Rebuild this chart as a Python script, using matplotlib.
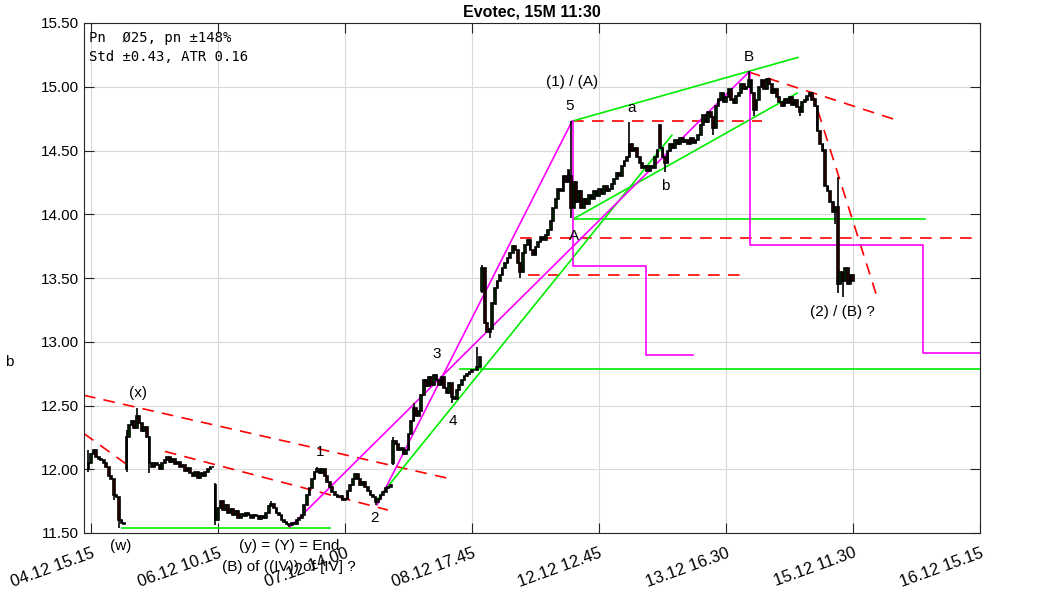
import matplotlib
matplotlib.use("Agg")
import matplotlib.pyplot as plt
import numpy as np

plt.rcParams['font.family'] = ['Liberation Sans', 'DejaVu Sans']

# Cierres de cada vela de 15 minutos (indice 0 = primera vela)
closes = [
    12.05, 12.12, 12.15, 12.10, 12.08, 12.07, 12.05, 12.02, 11.95, 11.92,
    11.80, 11.78, 11.60, 11.58, 11.57, 12.25, 12.35, 12.38, 12.32, 12.42,
    12.36, 12.30, 12.33, 12.25, 12.05, 12.02, 12.05, 12.03, 12.00, 12.05,
    12.07, 12.10, 12.06, 12.08, 12.04, 12.06, 12.02, 12.03, 11.99, 12.01,
    11.97, 11.95, 11.98, 11.93, 11.97, 11.95, 11.98, 12.00, 12.02, 12.02,
    11.60, 11.70, 11.75, 11.68, 11.72, 11.66, 11.69, 11.64, 11.67, 11.62,
    11.65, 11.63, 11.66, 11.64, 11.62, 11.64, 11.63, 11.61, 11.63, 11.62,
    11.66, 11.71, 11.73, 11.70, 11.66, 11.64, 11.60, 11.59, 11.57, 11.56,
    11.58, 11.57, 11.60, 11.62, 11.64, 11.72, 11.80, 11.85, 11.92, 11.98,
    12.00, 11.97, 12.00, 11.95, 11.90, 11.86, 11.82, 11.80, 11.78, 11.79,
    11.76, 11.77, 11.83, 11.88, 11.92, 11.96, 11.92, 11.88, 11.90, 11.86,
    11.83, 11.80, 11.78, 11.74, 11.77, 11.80, 11.82, 11.85, 11.86, 11.88,
    12.22, 12.20, 12.15, 12.17, 12.12, 12.15, 12.28, 12.38, 12.48, 12.42,
    12.46, 12.58, 12.70, 12.65, 12.72, 12.66, 12.74, 12.70, 12.66, 12.72,
    12.64, 12.60, 12.68, 12.57, 12.55, 12.62, 12.66, 12.70, 12.73, 12.75,
    12.76, 12.78, 12.78, 12.80, 12.88, 13.58, 13.15, 13.08, 13.10, 13.30,
    13.42, 13.48, 13.52, 13.58, 13.62, 13.66, 13.70, 13.75, 13.72, 13.62,
    13.55, 13.70, 13.76, 13.80, 13.72, 13.68, 13.74, 13.78, 13.82, 13.80,
    13.84, 13.88, 13.95, 14.05, 14.12, 14.20, 14.18, 14.30, 14.25, 14.35,
    14.05, 14.25, 14.10, 14.18, 14.05, 14.12, 14.08, 14.15, 14.12, 14.18,
    14.14, 14.20, 14.16, 14.22, 14.18, 14.20, 14.24, 14.28, 14.32, 14.30,
    14.38, 14.42, 14.45, 14.55, 14.50, 14.52, 14.45, 14.40, 14.36, 14.38,
    14.34, 14.38, 14.36, 14.45, 14.50, 14.52, 14.45, 14.40, 14.50, 14.55,
    14.52, 14.58, 14.55, 14.60, 14.57, 14.58, 14.55, 14.60, 14.56, 14.58,
    14.62, 14.70, 14.78, 14.72, 14.80, 14.76, 14.68, 14.85, 14.90, 14.95,
    14.88, 14.92, 14.98, 14.90, 14.87, 14.93, 14.95, 15.02, 14.98, 15.00,
    15.05, 14.95, 14.82, 14.90, 15.00, 15.05, 14.98, 15.06, 15.02, 14.95,
    14.98, 14.92, 14.88, 14.85, 14.90, 14.87, 14.92, 14.86, 14.90, 14.84,
    14.80, 14.88, 14.90, 14.93, 14.95, 14.90, 14.85, 14.65, 14.55, 14.50,
    14.22, 14.18, 14.10, 14.02, 14.06, 13.45, 13.55, 13.48, 13.58, 13.45,
    13.52, 13.48,
]

# Velas con apertura / maximo / minimo propios (huecos y mechas largas)
# indice: (apertura, maximo, minimo)
especiales = {
    0: (12.00, 12.15, 11.98),
    10: (None, None, 11.76),
    12: (None, None, 11.54),
    15: (12.00, 12.31, 11.98),
    19: (None, 12.48, None),
    24: (None, None, 11.97),
    50: (11.88, 11.89, 11.56),
    72: (None, 11.75, None),
    79: (None, None, 11.55),
    90: (None, 12.02, None),
    113: (None, None, 11.72),
    120: (12.05, 12.25, 12.03),
    128: (None, 12.52, None),
    143: (None, None, 12.52),
    153: (None, 12.96, None),
    155: (13.40, 13.60, 13.38),
    158: (None, None, 13.03),
    170: (13.62, None, 13.50),
    190: (14.30, 14.73, 13.97),
    213: (None, 14.72, None),
    225: (14.70, None, None),
    227: (None, None, 14.33),
    246: (None, None, 14.62),
    260: (None, 15.12, None),
    262: (None, None, 14.77),
    280: (None, None, 14.77),
    294: (None, None, 13.92),
    295: (14.06, 14.29, 13.38),
    297: (None, None, 13.35),
}

# Etiquetas del eje x (cada 50 velas)
xtick_pos = [1, 51, 101, 151, 201, 251, 301, 351]
xtick_labels = ['04.12 15.15', '06.12 10.15', '07.12 14.00', '08.12 17.45',
                '12.12 12.45', '13.12 16.30', '15.12 11.30', '16.12 15.15']
yticks = [11.5, 12.0, 12.5, 13.0, 13.5, 14.0, 14.5, 15.0, 15.5]

# Lineas de tendencia: ((x0, y0), (x1, y1))
rojas = [
    ((-1.8, 12.58), (143.5, 11.92)),
    ((-1.8, 12.28), (16.3, 12.02)),
    ((30.1, 12.14), (117.9, 11.68)),
    ((190.4, 14.73), (265.2, 14.73)),
    ((169.9, 13.81), (351.0, 13.81)),
    ((173.0, 13.52), (256.5, 13.52)),
    ((260.0, 15.115), (319.5, 14.73)),
    ((284.8, 14.96), (310.8, 13.33)),
]
verdes = [
    ((13.2, 11.54), (95.1, 11.54)),
    ((113.6, 11.76), (229.7, 14.62)),
    ((190.7, 13.963), (329.3, 13.963)),
    ((146.3, 12.786), (351.0, 12.786)),
    ((191.5, 13.97), (279.0, 14.95)),
    ((190.4, 14.73), (279.3, 15.23)),
]
magentas = [
    ((79.3, 11.547), (260.0, 15.115)),
    ((113.6, 11.72), (190.4, 14.73)),
]
# Escalones (objetivos)
esc1_x = [190.6, 190.6, 219.5, 219.5, 238.0]
esc1_y = [14.73, 13.594, 13.594, 12.896, 12.896]
esc2_x = [260.4, 260.4, 328.5, 328.5, 351.0]
esc2_y = [15.115, 13.76, 13.76, 12.91, 12.91]

# Textos de las ondas
ondas = [
    ('(x)', 19.5, 12.60), ('1', 91.2, 12.135), ('2', 112.8, 11.62),
    ('3', 137.2, 12.90), ('4', 143.5, 12.38), ('5', 189.6, 14.85),
    ('(1) / (A)', 190.4, 15.04), ('a', 214, 14.83), ('b', 227, 14.22),
    ('A', 191, 13.83), ('B', 260, 15.23), ('(2) / (B) ?', 297, 13.23),
]

fig = plt.figure(figsize=(10.63, 5.91), dpi=100)
ax = fig.add_axes([84/1063, 1-533/591, (980-84)/1063, (533-23)/591])

n = len(closes)
idx = np.arange(n)
c = np.array(closes)
o = np.empty(n)
o[0] = c[0]
o[1:] = c[:-1]
h = np.maximum(o, c)
l = np.minimum(o, c)
for k, (oo, hh, ll) in especiales.items():
    if oo is not None:
        o[k] = oo
    h[k] = max(o[k], c[k]) if hh is None else hh
    l[k] = min(o[k], c[k]) if ll is None else ll

# Lineas primero, luego las velas encima
for (x0, y0), (x1, y1) in rojas:
    ax.plot([x0, x1], [y0, y1], color='#ff0000', lw=1.2, dashes=(7, 5), zorder=2)
for (x0, y0), (x1, y1) in verdes:
    ax.plot([x0, x1], [y0, y1], color='#00ee00', lw=1.2, zorder=2)
for (x0, y0), (x1, y1) in magentas:
    ax.plot([x0, x1], [y0, y1], color='#ff00ff', lw=1.2, zorder=2)
ax.plot(esc1_x, esc1_y, color='#ff00ff', lw=1.2, zorder=2)
ax.plot(esc2_x, esc2_y, color='#ff00ff', lw=1.2, zorder=2)

ax.vlines(idx, l, h, color='black', lw=1.2, zorder=3)
colores = np.where(c >= o, '#00b000', '#d00000')
ax.bar(idx, np.abs(c - o), bottom=np.minimum(o, c), width=0.7,
       color=colores, edgecolor='black', linewidth=1.2, zorder=4)

for txt, xx, yy in ondas:
    ax.text(xx, yy, txt, ha='center', va='center', fontsize=11, zorder=5)

ax.text(12.8, 11.40, '(w)', ha='center', va='center', fontsize=11, clip_on=False)
ax.text(79, 11.40, '(y) = (Y) = End', ha='center', va='center', fontsize=11, clip_on=False)
ax.text(79, 11.235, '(B) of ((IV)) of [IV] ?', ha='center', va='center', fontsize=11, clip_on=False)

ax.text(0.006, 0.985, 'Pn  \u00d825, pn \u00b1148%\nStd \u00b10.43, ATR 0.16',
        transform=ax.transAxes, ha='left', va='top', fontsize=10,
        family='DejaVu Sans Mono', linespacing=1.45)

ax.set_xlim(-1.77, 351)
ax.set_ylim(11.5, 15.5)
ax.set_yticks(yticks)
ax.set_yticklabels(['%.2f' % v for v in yticks], fontsize=11)
ax.set_xticks(xtick_pos)
ax.set_xticklabels(xtick_labels, fontsize=12, rotation=20, ha='right',
                   rotation_mode='anchor')
ax.tick_params(axis='x', pad=9)
ax.tick_params(direction='in', length=7, top=True, right=True, color='#262626')
ax.grid(True, color='#d9d9d9', lw=0.8)
ax.set_axisbelow(True)
for s in ax.spines.values():
    s.set_color('#262626')

ax.set_title('Evotec, 15M 11:30', fontsize=11.5, fontweight='bold', pad=5)
fig.text(5/1063, 1-362/591, 'b', fontsize=11, va='center', ha='left')

fig.savefig('out.png', dpi=100)
